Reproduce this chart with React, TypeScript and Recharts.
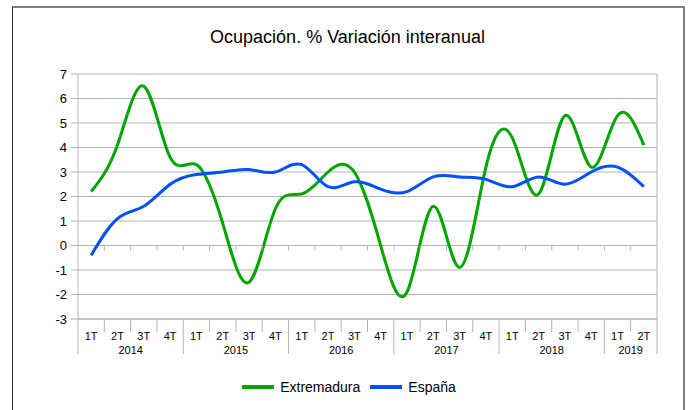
import React from "react";
import {
  LineChart,
  Line,
  XAxis,
  YAxis,
  CartesianGrid,
  Legend,
} from "recharts";

const QUARTERS = [
  "1T", "2T", "3T", "4T",
  "1T", "2T", "3T", "4T",
  "1T", "2T", "3T", "4T",
  "1T", "2T", "3T", "4T",
  "1T", "2T", "3T", "4T",
  "1T", "2T",
];
const YEARS = [
  "2014", "2014", "2014", "2014",
  "2015", "2015", "2015", "2015",
  "2016", "2016", "2016", "2016",
  "2017", "2017", "2017", "2017",
  "2018", "2018", "2018", "2018",
  "2019", "2019",
];
const EXTREMADURA = [
  2.2, 4.1, 6.5, 3.6, 3.3, 0.9, -1.5, 1.5, 2.1, 3.0, 3.0, 0.0, -1.9, 1.6,
  -0.9, 3.2, 4.4, 2.1, 5.3, 3.2, 5.3, 4.1,
];
const ESPANA = [
  -0.4, 1.1, 1.6, 2.5, 2.9, 3.0, 3.1, 3.0, 3.3, 2.4, 2.6, 2.3, 2.2, 2.8,
  2.8, 2.7, 2.4, 2.8, 2.5, 3.0, 3.2, 2.4,
];
const Y_TICKS = [-3, -2, -1, 0, 1, 2, 3, 4, 5, 6, 7];

const SERIES = [
  { key: "extremadura", name: "Extremadura", color: "#00a500" },
  { key: "espana", name: "España", color: "#0050ff" },
];

const data = QUARTERS.map((q, i) => ({
  key: `${YEARS[i]}-${q}`,
  extremadura: EXTREMADURA[i],
  espana: ESPANA[i],
}));

const W = 690;
const H = 410;
const MARGIN = { top: 74, right: 33, bottom: 41, left: 12 };
const X_AXIS_H = 50;
const Y_AXIS_W = 66;
const PLOT_W = W - MARGIN.left - Y_AXIS_W - MARGIN.right;
const PLOT_H = H - MARGIN.top - MARGIN.bottom - X_AXIS_H;
const STEP = PLOT_W / QUARTERS.length;
const HALF = STEP / 2;
const Y_MIN = -3;
const Y_MAX = 7;
const GRID = "#b3b3b3";
const FONT = '"Liberation Sans", Arial, sans-serif';

const QuarterTick = (props: any) => {
  const { x, y, payload } = props;
  const i: number = payload.index;
  const last = QUARTERS.length - 1;
  const yr = YEARS[i];
  const yearStart = i === 0 || YEARS[i - 1] !== yr;
  const yearEnd = i === last || YEARS[i + 1] !== yr;
  const groupSize = YEARS.filter((v) => v === yr).length;
  const zeroY = y - ((0 - Y_MIN) / (Y_MAX - Y_MIN)) * PLOT_H;
  const right = x + HALF;

  return (
    <g>
      {/* little ticks along the zero line */}
      {i < last && (
        <line x1={right} x2={right} y1={zeroY} y2={zeroY + 5} stroke={GRID} />
      )}
      {i === 0 && (
        <line x1={x - HALF} x2={x - HALF} y1={y} y2={y + 35} stroke={GRID} />
      )}
      <line
        x1={right}
        x2={right}
        y1={i === last ? y - PLOT_H : y}
        y2={yearEnd ? y + 35 : y + 13}
        stroke={GRID}
      />
      <text
        x={x}
        y={y + 21}
        textAnchor="middle"
        fontSize={11}
        fontFamily={FONT}
        fill="#000"
      >
        {QUARTERS[i]}
      </text>
      {yearStart && (
        <text
          x={x + ((groupSize - 1) / 2) * STEP}
          y={y + 35}
          textAnchor="middle"
          fontSize={11}
          fontFamily={FONT}
          fill="#000"
        >
          {yr}
        </text>
      )}
    </g>
  );
};

const LegendContent = () => (
  <div
    style={{
      display: "flex",
      justifyContent: "center",
      alignItems: "center",
      fontFamily: FONT,
      fontSize: 14,
      color: "#000",
    }}
  >
    {SERIES.map((s) => (
      <div
        key={s.key}
        style={{ display: "flex", alignItems: "center", marginRight: 10 }}
      >
        <span
          style={{
            display: "inline-block",
            width: 32,
            height: 4,
            background: s.color,
            marginRight: 6,
          }}
        />
        <span>{s.name}</span>
      </div>
    ))}
  </div>
);

export default function App() {
  return (
    <div
      style={{
        position: "absolute",
        left: 0,
        top: 0,
        width: W,
        height: H,
        background: "#fff",
        fontFamily: FONT,
        overflow: "hidden",
      }}
    >
      <div
        style={{
          position: "absolute",
          left: 12,
          top: 6,
          width: 670,
          height: 430,
          borderTop: "2px solid #808080",
          borderRight: "2px solid #808080",
          borderLeft: "1px solid #333",
          pointerEvents: "none",
        }}
      />
      <div
        style={{
          position: "absolute",
          left: 0,
          top: 27,
          width: 695,
          textAlign: "center",
          fontSize: 18,
          lineHeight: "21px",
          color: "#000",
        }}
      >
        Ocupación. % Variación interanual
      </div>
      <LineChart width={W} height={H} data={data} margin={MARGIN}>
        <CartesianGrid vertical={false} stroke={GRID} />
        <XAxis
          dataKey="key"
          interval={0}
          height={X_AXIS_H}
          padding={{ left: HALF, right: HALF }}
          axisLine={{ stroke: GRID }}
          tickLine={false}
          tickSize={0}
          tickMargin={0}
          tick={<QuarterTick />}
        />
        <YAxis
          width={Y_AXIS_W}
          domain={[Y_MIN, Y_MAX]}
          ticks={Y_TICKS}
          interval={0}
          axisLine={{ stroke: GRID }}
          tickLine={{ stroke: GRID }}
          tickSize={7}
          tickMargin={4}
          tick={{ fontSize: 13, fill: "#000", fontFamily: FONT }}
        />
        <Legend
          verticalAlign="middle"
          wrapperStyle={{ top: 379, left: 0, width: 708 }}
          content={<LegendContent />}
        />
        {SERIES.map((s) => (
          <Line
            key={s.key}
            dataKey={s.key}
            name={s.name}
            type="natural"
            stroke={s.color}
            strokeWidth={3}
            dot={false}
            activeDot={false}
            isAnimationActive={false}
          />
        ))}
      </LineChart>
    </div>
  );
}
